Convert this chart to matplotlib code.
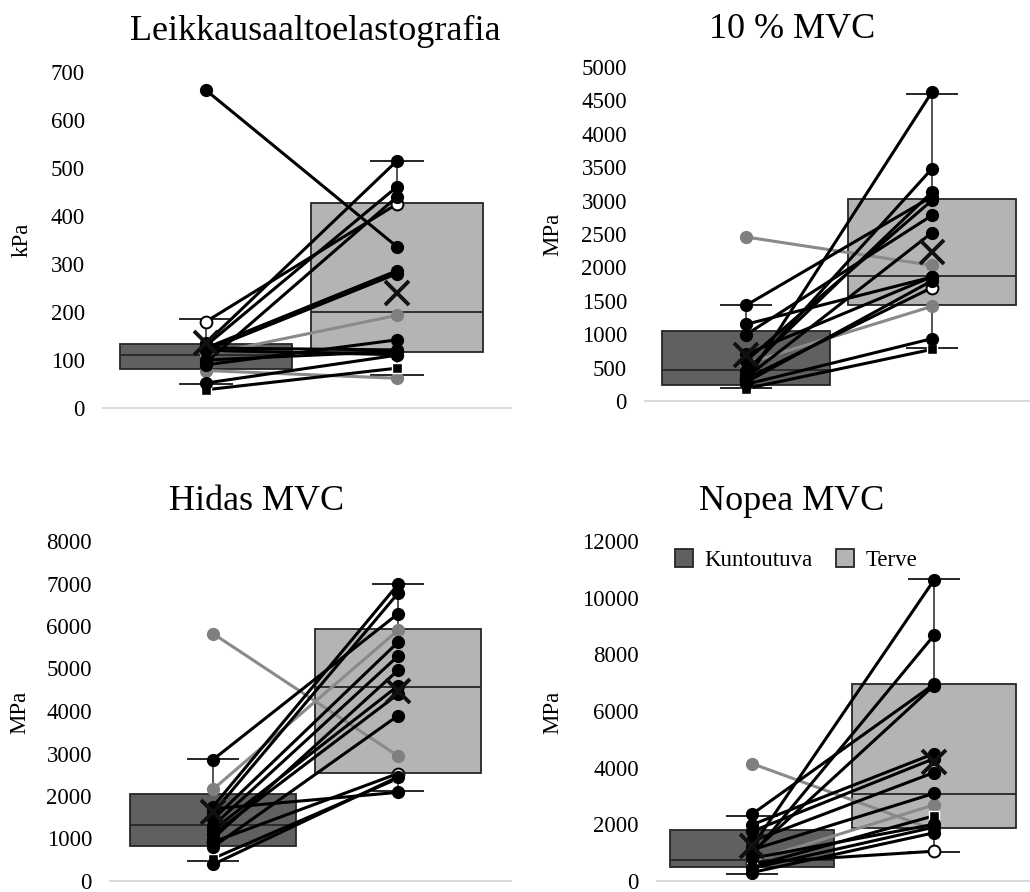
import matplotlib
matplotlib.use("Agg")
from matplotlib import pyplot as plt
from matplotlib.patches import Patch

plt.rcParams["font.family"] = ["Liberation Serif", "DejaVu Serif"]

# paired subjects: first two gray, then white, then square, rest black
styles = ["gray", "gray", "white", "square"] + ["black"] * 11

# Leikkausaaltoelastografia (kPa)
swe_kunt = [111, 78, 180, 38, 662, 135, 130, 95, 125, 120, 125, 120, 90, 52, 100]
swe_terve = [193, 62, 425, 83, 336, 515, 461, 440, 286, 280, 121, 111, 142, 110, 118]
# 10 % MVC (MPa)
mvc10_kunt = [2455, 560, 334, 185, 1432, 1148, 993, 300, 400, 450, 350, 700, 250, 280, 600]
mvc10_terve = [2031, 1417, 1697, 773, 3060, 1856, 2779, 4626, 3478, 3129, 2520, 1860, 933, 1800, 3004]
# Hidas MVC (MPa)
hidas_kunt = [5821, 2156, 918, 529, 2856, 1750, 1600, 1450, 1300, 1200, 1100, 800, 1000, 1700, 389]
hidas_terve = [2942, 5899, 2529, 2412, 6288, 6980, 6770, 5619, 5292, 4591, 4397, 3891, 4957, 2086, 2450]
# Nopea MVC (MPa)
nopea_kunt = [4144, 700, 642, 525, 2358, 1200, 900, 1984, 1751, 1401, 1100, 1000, 800, 300, 450]
nopea_terve = [1809, 2685, 1051, 2300, 6945, 10622, 8673, 4494, 4319, 3829, 3093, 6900, 2000, 1700, 1900]

# box stats: q1, median, q3, whisker low, whisker high, mean
swe_box = [(82, 111, 134, 49, 186, 136), (116, 200, 428, 69, 515, 240)]
mvc10_box = [(235, 459, 1043, 200, 1432, 690), (1432, 1871, 3019, 793, 4600, 2230)]
hidas_box = [(817, 1323, 2039, 467, 2879, 1634), (2545, 4568, 5930, 2117, 6980, 4475)]
nopea_box = [(490, 745, 1809, 257, 2300, 1226), (1868, 3070, 6945, 1027, 10646, 4202)]

titles = ["Leikkausaaltoelastografia", "10 % MVC", "Hidas MVC", "Nopea MVC"]
units = ["kPa", "MPa", "MPa", "MPa"]
yticks = [range(0, 701, 100), range(0, 5001, 500), range(0, 8001, 1000), range(0, 12001, 2000)]
group_names = ["Kuntoutuva", "Terve"]

W, H = 1030, 892
fig = plt.figure(figsize=(W / 100, H / 100), dpi=100)

DARK = "#606060"
LIGHT = "#b4b4b4"
EDGE = "#262626"

# pixel layout: left, right, bottom, top, centre1, centre2, title x, title baseline, ylabel x, ylabel y
layout = [
    (103, 511, 408, 72, 206, 397, 315, 40, 22, 240),
    (645, 1030, 401, 67, 746, 932, 792, 38, 553, 234),
    (110, 511, 881, 541, 213, 398, 257, 510, 20, 712),
    (657, 1030, 881, 541, 752, 934, 792, 510, 553, 712),
]

panels = [
    (swe_kunt, swe_terve, swe_box),
    (mvc10_kunt, mvc10_terve, mvc10_box),
    (hidas_kunt, hidas_terve, hidas_box),
    (nopea_kunt, nopea_terve, nopea_box),
]


def style_kw(s):
    if s == "gray":
        return dict(color="#8a8a8a", marker="o", mfc="#7f7f7f", mec="#7f7f7f", ms=8.5)
    if s == "white":
        return dict(color="black", marker="o", mfc="white", mec="black", mew=1.4, ms=8.5)
    if s == "square":
        return dict(color="black", marker="s", mfc="black", mec="white", mew=1.0, ms=7)
    return dict(color="black", marker="o", mfc="black", mec="black", ms=8.5)


for i, (kunt, terve, box) in enumerate(panels):
    L, R, yb, yt, c1, c2, tx, ty, lx, ly = layout[i]
    ax = fig.add_axes([L / W, 1 - yb / H, (R - L) / W, (yb - yt) / H])
    unit = c2 - c1
    ax.set_xlim(1 - (c1 - L) / unit, 2 + (R - c2) / unit)
    ax.set_ylim(0, max(yticks[i]))

    stats = []
    for name, (q1, med, q3, lo, hi, mean) in zip(group_names, box):
        stats.append(dict(label=name, q1=q1, med=med, q3=q3, whislo=lo, whishi=hi,
                          mean=mean, fliers=[]))
    bp = ax.bxp(stats, positions=[1, 2], widths=0.9, patch_artist=True, showmeans=True,
                capwidths=0.27,
                boxprops=dict(edgecolor=EDGE, linewidth=1.3),
                medianprops=dict(color=EDGE, linewidth=1.3),
                whiskerprops=dict(color=EDGE, linewidth=1.1),
                capprops=dict(color=EDGE, linewidth=1.4),
                meanprops=dict(marker="x", markersize=17, markeredgewidth=2.8,
                               markeredgecolor="#111111"),
                manage_ticks=False, zorder=2)
    for patch, fc in zip(bp["boxes"], [DARK, LIGHT]):
        patch.set_facecolor(fc)
    for m in bp["means"]:
        m.set_zorder(5)

    for a, b, s in zip(kunt, terve, styles):
        ax.plot([1, 2], [a, b], lw=2.2, zorder=3, clip_on=False, **style_kw(s))

    ax.set_yticks(list(yticks[i]))
    ax.set_xticks([])
    ax.tick_params(axis="y", length=0, pad=13, labelsize=16.5)
    for side in ["top", "right", "left"]:
        ax.spines[side].set_visible(False)
    ax.spines["bottom"].set_color("#d9d9d9")
    ax.spines["bottom"].set_linewidth(1.4)

    fig.text(tx / W, 1 - ty / H, titles[i], ha="center", va="baseline", fontsize=26)
    fig.text(lx / W, 1 - ly / H, units[i], ha="center", va="center", rotation=90,
             fontsize=16.5)

    if i == 3:
        handles = [Patch(facecolor=DARK, edgecolor=EDGE, linewidth=1.3),
                   Patch(facecolor=LIGHT, edgecolor=EDGE, linewidth=1.3)]
        ax.legend(handles, group_names, loc="center", bbox_to_anchor=(796 / W, 1 - 560 / H),
                  bbox_transform=fig.transFigure, ncol=2, frameon=False, fontsize=16.5,
                  handlelength=0.8, handleheight=0.8, handletextpad=0.5, columnspacing=1.0)

fig.savefig("out.png", dpi=100)
